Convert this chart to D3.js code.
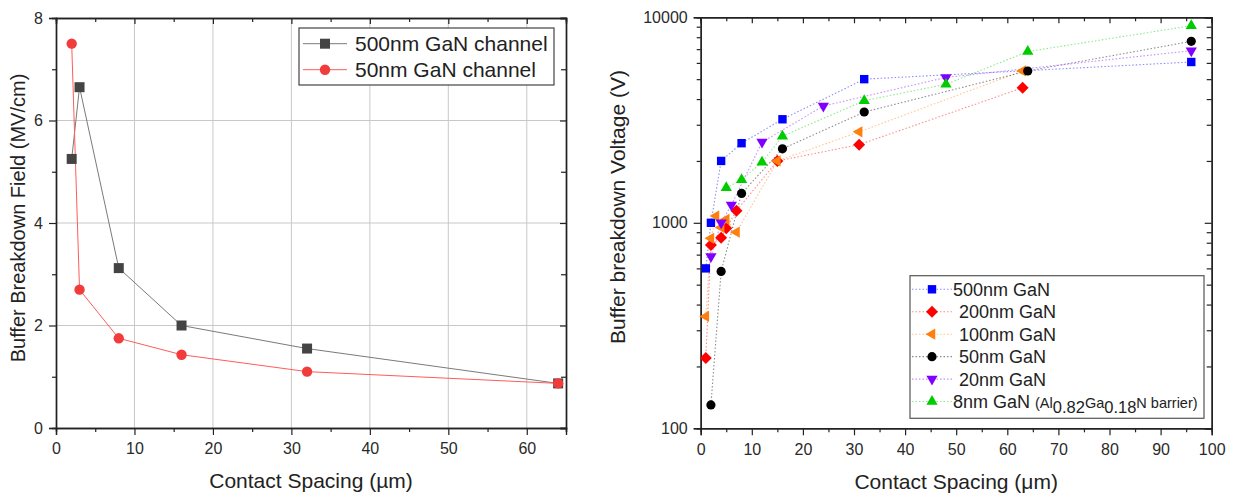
<!DOCTYPE html>
<html><head><meta charset="utf-8">
<script src="https://cdn.jsdelivr.net/npm/d3@7"></script>
<style>
body{margin:0;background:#fff}
svg{font-family:"Liberation Sans",Arial,sans-serif}
.tick text{fill:#2a2a2a}
</style>
</head><body><svg id="c" width="1234" height="498"></svg>
<script>
// ---------- Left chart data ----------
const leftX = [2, 3, 8, 16, 32, 64];
const field500 = [5.25, 6.65, 3.12, 2.0, 1.55, 0.87];
const field50 = [7.5, 2.7, 1.75, 1.43, 1.1, 0.87];
const leftNames = ["500nm GaN channel", "50nm GaN channel"];
const leftXTicks = [0, 10, 20, 30, 40, 50, 60];
const leftXMinor = [5, 15, 25, 35, 45, 55, 65];
const leftYTicks = [0, 2, 4, 6, 8];
const leftYMinor = [1, 3, 5, 7];

// ---------- Right chart data ----------
const rightNames = ["500nm GaN", "200nm GaN", "100nm GaN", "50nm GaN", "20nm GaN", "8nm GaN"];
const x500 = [1, 2, 4, 8, 16, 32, 96];
const v500 = [600, 1000, 2000, 2440, 3190, 5000, 6060];
const x200 = [1, 2, 4, 5, 7, 15, 31, 63];
const v200 = [220, 780, 845, 940, 1145, 2000, 2400, 4540];
const x100 = [1, 2, 3, 4, 5, 7, 15, 31, 63];
const v100 = [350, 840, 1080, 950, 1040, 900, 2000, 2770, 5480];
const x50 = [2, 4, 8, 16, 32, 64, 96];
const v50 = [130, 580, 1390, 2290, 3460, 5480, 7640];
const x20 = [2, 4, 6, 12, 24, 48, 96];
const v20 = [685, 1000, 1220, 2470, 3700, 5100, 6880];
const x8 = [5, 8, 12, 16, 32, 48, 64, 96];
const v8 = [1480, 1620, 1970, 2640, 3930, 4720, 6810, 9100];
const rightXTicks = [0, 10, 20, 30, 40, 50, 60, 70, 80, 90, 100];
const rightXMinor = [5, 15, 25, 35, 45, 55, 65, 75, 85, 95];
const rightYTicks = [100, 1000, 10000];
const rightYMinor = [200, 300, 400, 500, 600, 700, 800, 900, 2000, 3000, 4000, 5000, 6000, 7000, 8000, 9000];

const svg = d3.select("#c");
const AX = "#222";

function styleAxis(g) {
  g.selectAll(".domain").attr("stroke", AX).attr("stroke-width", 1.4);
  g.selectAll(".tick line").attr("stroke", AX).attr("stroke-width", 1.2);
  g.selectAll(".tick text").attr("font-size", 16);
}

function markerPath(type) {
  if (type === "square") { const s = 4.2; return `M${-s},${-s}H${s}V${s}H${-s}Z`; }
  if (type === "lsquare") { const s = 5; return `M${-s},${-s}H${s}V${s}H${-s}Z`; }
  if (type === "diamond") { const s = 6; return `M0,${-s}L${s},0L0,${s}L${-s},0Z`; }
  const r = 6.5, a = 0.866 * r, h = r / 2;
  if (type === "left") return `M${-r},0L${h},${-a}L${h},${a}Z`;
  if (type === "down") return `M0,${r}L${-a},${-h}L${a},${-h}Z`;
  if (type === "up") return `M0,${-r}L${-a},${h}L${a},${h}Z`;
  return null;
}
function drawMarker(g, type, x, y, fill, r) {
  if (type === "circle") {
    g.append("circle").attr("cx", x).attr("cy", y).attr("r", r || 4.6).attr("fill", fill);
  } else {
    g.append("path").attr("d", markerPath(type)).attr("transform", `translate(${x},${y})`).attr("fill", fill);
  }
}

// =================== LEFT CHART ===================
{
  const L = 56, T = 18, R = 566, B = 428;
  const x = d3.scaleLinear().domain([0, 65]).range([L, R]);
  const y = d3.scaleLinear().domain([0, 8]).range([B, T]);
  const g = svg.append("g");

  // grid
  g.append("g").selectAll("line").data(leftXTicks.filter(d => d > 0)).join("line")
    .attr("x1", d => x(d)).attr("x2", d => x(d)).attr("y1", T).attr("y2", B)
    .attr("stroke", "#c8c8c8").attr("stroke-width", 1);
  g.append("g").selectAll("line").data(leftYTicks.filter(d => d > 0 && d < 8)).join("line")
    .attr("y1", d => y(d)).attr("y2", d => y(d)).attr("x1", L).attr("x2", R)
    .attr("stroke", "#c8c8c8").attr("stroke-width", 1);

  // axes
  const gb = g.append("g").attr("transform", `translate(0,${B})`)
    .call(d3.axisBottom(x).tickValues(leftXTicks).tickSize(7).tickPadding(8));
  g.append("g").attr("transform", `translate(0,${B})`)
    .call(d3.axisBottom(x).tickValues(leftXMinor).tickSize(4).tickFormat("")).call(styleAxis);
  styleAxis(gb);
  const gl = g.append("g").attr("transform", `translate(${L},0)`)
    .call(d3.axisLeft(y).tickValues(leftYTicks).tickSize(7).tickPadding(6));
  styleAxis(gl);
  g.append("g").attr("transform", `translate(${L},0)`)
    .call(d3.axisLeft(y).tickValues(leftYMinor).tickSize(4).tickFormat("")).call(styleAxis);
  g.append("g").attr("transform", `translate(0,${T})`)
    .call(d3.axisTop(x).tickValues(leftXTicks).tickSize(-6).tickFormat("")).call(styleAxis);
  g.append("g").attr("transform", `translate(0,${T})`)
    .call(d3.axisTop(x).tickValues(leftXMinor).tickSize(-4).tickFormat("")).call(styleAxis);
  g.append("g").attr("transform", `translate(${R},0)`)
    .call(d3.axisRight(y).tickValues(leftYTicks).tickSize(-6).tickFormat("")).call(styleAxis);
  g.append("g").attr("transform", `translate(${R},0)`)
    .call(d3.axisRight(y).tickValues(leftYMinor).tickSize(-5).tickFormat("")).call(styleAxis);

  const series = [
    { vals: field500, line: "#7a7a7a", fill: "#444", type: "lsquare" },
    { vals: field50, line: "#ff5c5c", fill: "#f23b3b", type: "circle" }
  ];
  const line = d3.line().x((d, i) => x(leftX[i])).y(d => y(d));
  series.forEach(s => {
    g.append("path").attr("d", line(s.vals)).attr("fill", "none").attr("stroke", s.line).attr("stroke-width", 1);
  });
  series.forEach(s => {
    s.vals.forEach((v, i) => drawMarker(g, s.type, x(leftX[i]), y(v), s.fill, 5.2));
  });

  // legend
  const lg = g.append("g");
  lg.append("rect").attr("x", 299).attr("y", 28).attr("width", 255).attr("height", 57)
    .attr("fill", "#fff").attr("stroke", "#444").attr("stroke-width", 1.2);
  series.forEach((s, i) => {
    const cy = 43.7 + i * 26;
    lg.append("line").attr("x1", 303).attr("x2", 347).attr("y1", cy).attr("y2", cy).attr("stroke", s.line).attr("stroke-width", 1);
    drawMarker(lg, s.type, 325, cy, s.fill, 5.2);
    lg.append("text").attr("x", 355).attr("y", cy + 7.5).attr("font-size", 21).attr("fill", "#222").text(leftNames[i]);
  });

  g.append("text").attr("x", (L + R) / 2).attr("y", 488).attr("text-anchor", "middle")
    .attr("font-size", 21).attr("fill", "#222").text("Contact Spacing (µm)");
  g.append("text").attr("transform", `translate(25,${(T + B) / 2 - 5}) rotate(-90)`).attr("text-anchor", "middle")
    .attr("font-size", 20).attr("fill", "#222").text("Buffer Breakdown Field (MV/cm)");
}

// =================== RIGHT CHART ===================
{
  const L = 700.7, T = 17.3, R = 1211.7, B = 428.3;
  const x = d3.scaleLinear().domain([0, 100]).range([L, R]);
  const y = d3.scaleLog().domain([100, 10000]).range([B, T]);
  const g = svg.append("g");

  const gb = g.append("g").attr("transform", `translate(0,${B})`)
    .call(d3.axisBottom(x).tickValues(rightXTicks).tickSize(7).tickPadding(8).tickFormat(d3.format("d")));
  styleAxis(gb);
  g.append("g").attr("transform", `translate(0,${B})`)
    .call(d3.axisBottom(x).tickValues(rightXMinor).tickSize(4).tickFormat("")).call(styleAxis);
  const gl = g.append("g").attr("transform", `translate(${L},0)`)
    .call(d3.axisLeft(y).tickValues(rightYTicks).tickSize(7).tickPadding(6).tickFormat(d3.format("d")));
  styleAxis(gl);
  g.append("g").attr("transform", `translate(${L},0)`)
    .call(d3.axisLeft(y).tickValues(rightYMinor).tickSize(4).tickFormat("")).call(styleAxis);
  g.append("g").attr("transform", `translate(0,${T})`)
    .call(d3.axisTop(x).tickValues(rightXTicks).tickSize(-6).tickFormat("")).call(styleAxis);
  g.append("g").attr("transform", `translate(0,${T})`)
    .call(d3.axisTop(x).tickValues(rightXMinor).tickSize(-4).tickFormat("")).call(styleAxis);
  g.append("g").attr("transform", `translate(${R},0)`)
    .call(d3.axisRight(y).tickValues(rightYTicks).tickSize(-7).tickFormat("")).call(styleAxis);
  g.append("g").attr("transform", `translate(${R},0)`)
    .call(d3.axisRight(y).tickValues(rightYMinor).tickSize(-5).tickFormat("")).call(styleAxis);

  const series = [
    { xs: x500, vs: v500, color: "#0000ff", type: "square" },
    { xs: x200, vs: v200, color: "#ff0000", type: "diamond" },
    { xs: x100, vs: v100, color: "#ff7f0e", type: "left" },
    { xs: x50, vs: v50, color: "#000000", type: "circle" },
    { xs: x20, vs: v20, color: "#8000ff", type: "down" },
    { xs: x8, vs: v8, color: "#00cc00", type: "up" }
  ];
  const line = d3.line().x(d => x(d[0])).y(d => y(d[1]));
  series.forEach(s => {
    const pts = s.xs.map((xv, i) => [xv, s.vs[i]]);
    g.append("path").attr("d", line(pts)).attr("fill", "none").attr("stroke", s.color)
      .attr("stroke-opacity", 0.45).attr("stroke-width", 1.1).attr("stroke-dasharray", "1.5,2");
  });
  series.forEach(s => {
    s.xs.forEach((xv, i) => drawMarker(g, s.type, x(xv), y(s.vs[i]), s.color, 4.6));
  });

  // legend
  const lg = g.append("g");
  lg.append("rect").attr("x", 910).attr("y", 275.7).attr("width", 294).attr("height", 142.6)
    .attr("fill", "#fff").attr("stroke", "#555").attr("stroke-width", 1.2);
  const textX = [953, 959, 959, 959, 959, 953];
  series.forEach((s, i) => {
    const cy = 289.3 + i * 22.45;
    lg.append("line").attr("x1", 912).attr("x2", 952).attr("y1", cy).attr("y2", cy).attr("stroke", s.color)
      .attr("stroke-opacity", 0.45).attr("stroke-width", 1.1).attr("stroke-dasharray", "1.5,2");
    drawMarker(lg, s.type, 932, cy, s.color, 4.6);
    const t = lg.append("text").attr("x", textX[i]).attr("y", cy + 6.5).attr("font-size", 18).attr("fill", "#222");
    if (i < 5) {
      t.text(rightNames[i]);
    } else {
      t.append("tspan").text(rightNames[i] + " ");
      t.append("tspan").attr("font-size", 14.5).text("(Al");
      t.append("tspan").attr("font-size", 16.5).attr("dy", 5).text("0.82");
      t.append("tspan").attr("font-size", 14.5).attr("dy", -5).text("Ga");
      t.append("tspan").attr("font-size", 16.5).attr("dy", 5).text("0.18");
      t.append("tspan").attr("font-size", 14.5).attr("dy", -5).text("N barrier)");
    }
  });

  g.append("text").attr("x", (L + R) / 2).attr("y", 489).attr("text-anchor", "middle")
    .attr("font-size", 21).attr("fill", "#222").text("Contact Spacing (μm)");
  g.append("text").attr("transform", `translate(625,207) rotate(-90)`).attr("text-anchor", "middle")
    .attr("font-size", 21).attr("fill", "#222").text("Buffer breakdown Voltage (V)");
}
</script>
</body></html>
